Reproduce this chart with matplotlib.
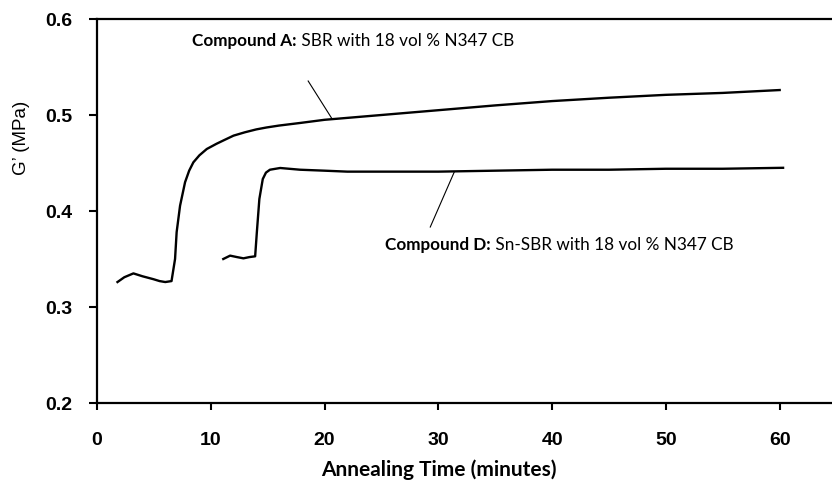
import matplotlib
matplotlib.use("Agg")
import matplotlib.pyplot as plt

# Compound A: SBR with 18 vol % N347 CB
time_a = [1.8, 2.4, 3.2, 4.0, 4.95, 5.5, 6.0, 6.55, 6.86, 7.0, 7.3, 7.74, 8.1,
          8.47, 9.0, 9.65, 10.5, 11.2, 12.0, 13, 14, 14.9, 16, 17.85, 20, 22,
          25, 30, 35, 40, 45, 50, 55, 60]
g_a = [0.326, 0.331, 0.335, 0.332, 0.329, 0.327, 0.326, 0.327, 0.350, 0.378,
       0.4055, 0.430, 0.442, 0.4507, 0.458, 0.4646, 0.470, 0.474, 0.4785,
       0.482, 0.485, 0.487, 0.489, 0.4917, 0.495, 0.497, 0.500, 0.505, 0.510,
       0.5145, 0.518, 0.521, 0.523, 0.526]

# Compound D: Sn-SBR with 18 vol % N347 CB
time_d = [11.1, 11.7, 12.3, 12.87, 13.4, 13.9, 14.05, 14.27, 14.57, 14.85,
          15.2, 16.1, 17.85, 20, 22, 25, 30, 35, 40, 45, 50, 55, 60.3]
g_d = [0.350, 0.3535, 0.352, 0.3507, 0.352, 0.3528, 0.378, 0.4125, 0.4333,
       0.440, 0.443, 0.4448, 0.443, 0.442, 0.441, 0.441, 0.441, 0.442, 0.443,
       0.443, 0.444, 0.444, 0.445]

x_ticks = [0, 10, 20, 30, 40, 50, 60]
y_ticks = [0.2, 0.3, 0.4, 0.5, 0.6]

tick_font = ["Liberation Sans", "DejaVu Sans"]
note_font = ["Lato", "DejaVu Sans"]

fig = plt.figure(figsize=(8.32, 4.89), dpi=100)
ax = fig.add_axes([97 / 832, 1 - 404 / 489, 1 - 97 / 832, (404 - 20) / 489])

ax.plot(time_a, g_a, color="black", lw=1.7, solid_joinstyle="round")
ax.plot(time_d, g_d, color="black", lw=1.7, solid_joinstyle="round")

ax.set_xlim(0, 64.6)
ax.set_ylim(0.2, 0.6)
ax.set_xticks(x_ticks)
ax.set_yticks(y_ticks)
ax.set_xticklabels([str(t) for t in x_ticks], family=tick_font, weight="bold", fontsize=14)
ax.set_yticklabels([f"{t:.1f}" for t in y_ticks], family=tick_font, weight="bold", fontsize=14)
ax.tick_params(axis="x", direction="out", length=5, width=1.5, pad=15)
ax.tick_params(axis="y", direction="out", length=6, width=1.5, pad=12)

ax.spines["right"].set_visible(False)
for s in ["left", "bottom", "top"]:
    ax.spines[s].set_linewidth(1.6)

ax.set_xlabel("Annealing Time (minutes)", family=note_font, weight="bold", fontsize=15)
ax.xaxis.set_label_coords((439 - 97) / (832 - 97), -(459 - 404) / 384)
fig.text(22 / 832, 1 - 138 / 489, "G\u2019 (MPa)", rotation=90, ha="center", va="center",
         family=tick_font, fontsize=13.5)

# annotations: bold name followed by regular description
def note(x, y, name, desc, line_from, line_to):
    t = ax.text(x, y, name, family=note_font, weight="bold", fontsize=12.3,
                ha="left", va="center")
    ax.annotate(desc, xy=(1, 0), xycoords=t, family=note_font, fontsize=12.3,
                ha="left", va="bottom")
    ax.plot([line_from[0], line_to[0]], [line_from[1], line_to[1]], color="black", lw=0.8)

note(8.36, 0.578, "Compound A:", " SBR with 18 vol % N347 CB", (18.56, 0.5354), (20.67, 0.4958))
note(25.33, 0.3656, "Compound D:", " Sn-SBR with 18 vol % N347 CB", (31.4, 0.4406), (29.29, 0.3833))

fig.savefig("out.png", dpi=100)
